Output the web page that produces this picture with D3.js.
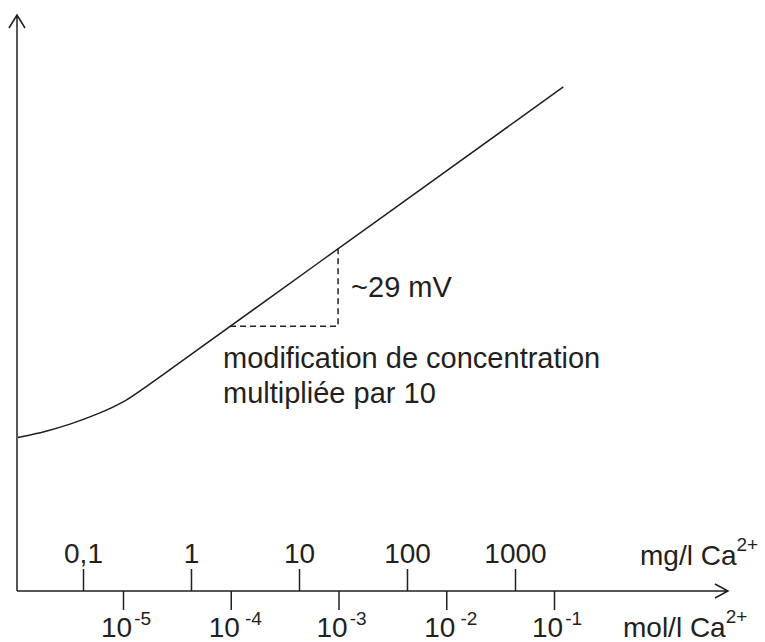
<!DOCTYPE html>
<html>
<head>
<meta charset="utf-8">
<script src="https://cdn.jsdelivr.net/npm/d3@7"></script>
<style>
  html, body { margin: 0; padding: 0; background: #fff; }
  svg { display: block; font-family: "Liberation Sans", Arial, sans-serif; }
</style>
</head>
<body>
<svg id="chart"></svg>
<script>
// concentration in mg/l Ca2+ and electrode potential (mV, arbitrary origin)
var curveConc = [0.025, 0.045, 0.076, 0.138, 0.25, 0.42, 10, 2800];
var curveMv   = [57.4, 59.6, 62.3, 66.2, 70.9, 77.5, 117.5, 188.5];

// slope triangle: concentration x10 -> ~29 mV
var stepConc = [2.3, 23];
var stepMv   = [99, 128];

// tick labels
var mgTicks  = [0.1, 1, 10, 100, 1000];
var mgLabels = ["0,1", "1", "10", "100", "1000"];
var molTicks = [1e-5, 1e-4, 1e-3, 1e-2, 1e-1];
var molExp   = ["-5", "-4", "-3", "-2", "-1"];

var width = 765, height = 642;
var ink = "#231f20";

var svg = d3.select("#chart")
    .attr("width", width)
    .attr("height", height);

var x0 = 17, yAxis = 591;

var xMg = d3.scaleLog().domain([0.1, 1000]).range([83, 515]);
var xMol = d3.scaleLog().domain([1e-5, 1e-1]).range([123, 554]);
var y = d3.scaleLinear().domain([0, 200]).range([yAxis, yAxis - 534.8]);

// axes with open arrowheads
svg.append("path")
    .attr("d", "M" + x0 + "," + yAxis + "V15M" + (x0 - 8) + ",28L" + x0 + ",15L" + (x0 + 8) + ",28")
    .attr("fill", "none").attr("stroke", ink).attr("stroke-width", 1.5);

svg.append("path")
    .attr("d", "M" + x0 + "," + yAxis + "H728M715,584L728," + yAxis + "L715,598")
    .attr("fill", "none").attr("stroke", ink).attr("stroke-width", 1.5);

// mg/l ticks (above axis)
var mgAxis = d3.axisTop(xMg)
    .tickValues(mgTicks)
    .tickSize(22)
    .tickFormat((d, i) => mgLabels[i]);

var gMg = svg.append("g")
    .attr("transform", "translate(0," + yAxis + ")")
    .call(mgAxis);
gMg.select(".domain").remove();
gMg.selectAll("line").attr("stroke", ink).attr("stroke-width", 1.5);
gMg.selectAll("text")
    .attr("font-size", 28)
    .attr("font-family", "Liberation Sans, Arial, sans-serif")
    .attr("fill", ink)
    .attr("dy", 0)
    .attr("y", -28);

// mol/l ticks (below axis)
var molAxis = d3.axisBottom(xMol)
    .tickValues(molTicks)
    .tickSize(19)
    .tickFormat("");

var gMol = svg.append("g")
    .attr("transform", "translate(0," + yAxis + ")")
    .call(molAxis);
gMol.select(".domain").remove();
gMol.selectAll("line").attr("stroke", ink).attr("stroke-width", 1.5);

var molLab = svg.append("g").selectAll("text")
    .data(molTicks)
    .join("text")
    .attr("x", d => xMol(d) - 22)
    .attr("y", 637)
    .attr("font-size", 28)
    .attr("fill", ink);
molLab.append("tspan").text("10");
molLab.append("tspan")
    .attr("dx", (d, i) => (i == 1 || i == 3) ? 5 : 2)
    .attr("dy", -12)
    .attr("font-size", 19)
    .text((d, i) => molExp[i]);

// unit labels
var unitMg = svg.append("text")
    .attr("x", 640).attr("y", 565)
    .attr("font-size", 28).attr("fill", ink);
unitMg.append("tspan").text("mg/l Ca");
unitMg.append("tspan").attr("dy", -14).attr("font-size", 19).text("2+");

var unitMol = svg.append("text")
    .attr("x", 623).attr("y", 637)
    .attr("font-size", 28).attr("fill", ink);
unitMol.append("tspan").text("mol/l Ca");
unitMol.append("tspan").attr("dy", -14).attr("font-size", 19).text("2+");

// response curve
var pts = curveConc.map((c, i) => [xMg(c), y(curveMv[i])]);
svg.append("path")
    .attr("d", d3.line().curve(d3.curveBasis)(pts))
    .attr("fill", "none")
    .attr("stroke", ink)
    .attr("stroke-width", 1.5);

// dashed slope triangle
svg.append("path")
    .attr("d", "M" + xMg(stepConc[0]) + "," + y(stepMv[0]) +
               "H" + xMg(stepConc[1]) +
               "V" + y(stepMv[1]))
    .attr("fill", "none")
    .attr("stroke", ink)
    .attr("stroke-width", 1.5)
    .attr("stroke-dasharray", "6,4");

svg.append("text")
    .attr("x", xMg(stepConc[1]) + 13)
    .attr("y", 297)
    .attr("font-size", 29).attr("fill", ink)
    .text("~29 mV");

svg.append("text")
    .attr("x", 223).attr("y", 368)
    .attr("font-size", 29).attr("fill", ink)
    .text("modification de concentration");
svg.append("text")
    .attr("x", 223).attr("y", 403)
    .attr("font-size", 29).attr("fill", ink)
    .text("multipliée par 10");
</script>
</body>
</html>
